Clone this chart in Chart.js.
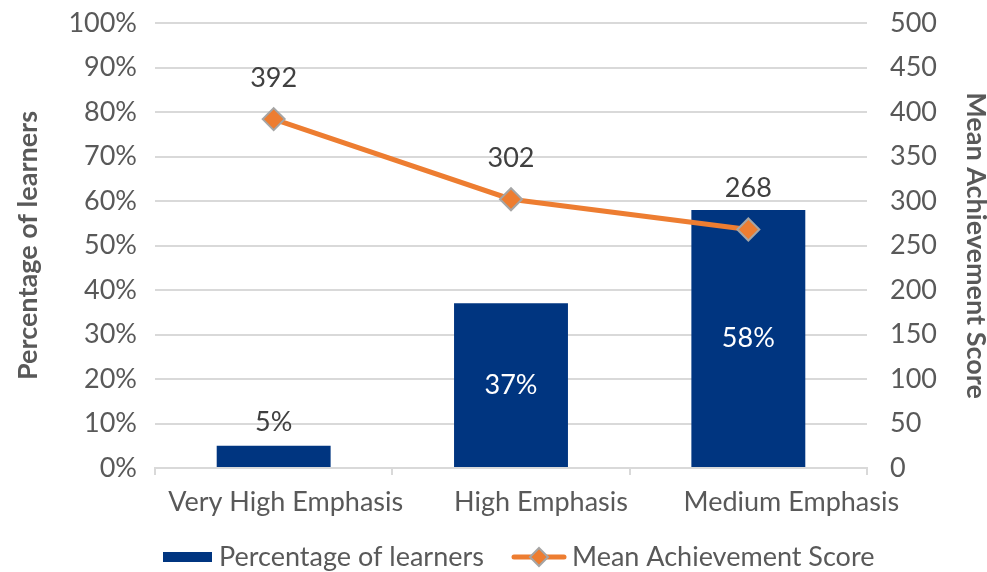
<!DOCTYPE html>
<html>
<head>
<meta charset="utf-8">
<script src="https://cdn.jsdelivr.net/npm/chart.js@4.4.1/dist/chart.umd.min.js"></script>
<style>
  html, body { margin: 0; padding: 0; background: #fff; }
  #wrap { width: 987px; height: 572px; position: relative; }
</style>
</head>
<body>
<div id="wrap"><canvas id="emphChart"></canvas></div>
<script>
// categories and values
const categories = ['Very High Emphasis', 'High Emphasis', 'Medium Emphasis'];
const pctLearners = [5, 37, 58];
const meanScore = [392, 302, 268];
const pctTicks = [0, 10, 20, 30, 40, 50, 60, 70, 80, 90, 100];
const scoreTicks = [0, 50, 100, 150, 200, 250, 300, 350, 400, 450, 500];

const NAVY = '#003580';
const ORANGE = '#ED7D31';
const GRID = '#d9d9d9';
const TXT = '#595959';
const FONT = 'Lato, "Noto Sans", sans-serif';
const FS = 27;

// category labels sit a little right of the bar centres
const labelShift = [12, 30, 43];

// value labels on bars and line points
const valueLabels = {
    id: 'valueLabels',
    afterDatasetsDraw(chart) {
        const ctx = chart.ctx;
        ctx.save();
        ctx.font = FS + 'px ' + FONT;
        ctx.textAlign = 'center';
        ctx.textBaseline = 'middle';
        chart.getDatasetMeta(0).data.forEach((bar, i) => {
            const h = bar.base - bar.y;
            if (h < 40) {
                ctx.fillStyle = '#404040';
                ctx.fillText(pctLearners[i] + '%', bar.x, bar.y - 23);
            } else {
                ctx.fillStyle = '#ffffff';
                ctx.fillText(pctLearners[i] + '%', bar.x, (bar.y + bar.base) / 2);
            }
        });
        ctx.fillStyle = '#404040';
        chart.getDatasetMeta(1).data.forEach((pt, i) => {
            ctx.fillText(String(meanScore[i]), pt.x, pt.y - 41);
        });
        ctx.restore();
    }
};

// category names under the x axis
const catLabels = {
    id: 'catLabels',
    afterDraw(chart) {
        const ctx = chart.ctx;
        const xs = chart.scales.x;
        ctx.save();
        ctx.font = FS + 'px ' + FONT;
        ctx.fillStyle = TXT;
        ctx.textAlign = 'center';
        ctx.textBaseline = 'middle';
        categories.forEach((c, i) => {
            ctx.fillText(c, xs.getPixelForTick(i) + labelShift[i], chart.chartArea.bottom + 34);
        });
        ctx.restore();
    }
};

// legend under the axis
const bottomLegend = {
    id: 'bottomLegend',
    afterDraw(chart) {
        const ctx = chart.ctx;
        const y = 557;
        ctx.save();
        ctx.fillStyle = NAVY;
        ctx.fillRect(163, y - 5, 49, 10);
        ctx.font = FS + 'px ' + FONT;
        ctx.textBaseline = 'middle';
        ctx.textAlign = 'left';
        ctx.fillStyle = TXT;
        ctx.fillText('Percentage of learners', 219, y);

        ctx.strokeStyle = ORANGE;
        ctx.lineWidth = 5;
        ctx.lineCap = 'round';
        ctx.beginPath();
        ctx.moveTo(514, y);
        ctx.lineTo(564, y);
        ctx.stroke();
        const cx = 539, r = 9;
        ctx.beginPath();
        ctx.moveTo(cx, y - r);
        ctx.lineTo(cx + r, y);
        ctx.lineTo(cx, y + r);
        ctx.lineTo(cx - r, y);
        ctx.closePath();
        ctx.fillStyle = ORANGE;
        ctx.fill();
        ctx.strokeStyle = '#a5a5a5';
        ctx.lineWidth = 2;
        ctx.stroke();
        ctx.fillStyle = TXT;
        ctx.fillText('Mean Achievement Score', 572, y);
        ctx.restore();
    }
};

// fixed axis box, no extra padding for the end labels
function fixWidth(w) {
    return function (scale) {
        scale.width = w;
        scale.paddingTop = 0;
        scale.paddingBottom = 0;
    };
}

new Chart(document.getElementById('emphChart'), {
    data: {
        labels: categories,
        datasets: [{
            type: 'bar',
            label: 'Percentage of learners',
            data: pctLearners,
            backgroundColor: NAVY,
            barPercentage: 0.48,
            categoryPercentage: 1,
            yAxisID: 'y',
            order: 2
        }, {
            type: 'line',
            label: 'Mean Achievement Score',
            data: meanScore,
            borderColor: ORANGE,
            borderWidth: 5,
            pointStyle: 'rectRot',
            pointRadius: 11,
            pointBackgroundColor: ORANGE,
            pointBorderColor: '#a5a5a5',
            pointBorderWidth: 2,
            yAxisID: 'y1',
            order: 1
        }]
    },
    options: {
        responsive: true,
        maintainAspectRatio: false,
        animation: false,
        layout: { padding: { top: 23, right: 0, left: 0, bottom: 0 } },
        plugins: {
            legend: { display: false },
            tooltip: { enabled: false }
        },
        scales: {
            x: {
                offset: true,
                grid: { offset: true, drawOnChartArea: false, color: GRID, lineWidth: 2, tickLength: 7 },
                border: { color: GRID, width: 2 },
                ticks: { display: false, maxRotation: 0, minRotation: 0, autoSkip: false },
                afterFit(scale) {
                    scale.height = 104;
                    scale.paddingLeft = 0;
                    scale.paddingRight = 0;
                }
            },
            y: {
                position: 'left',
                min: 0, max: 100,
                afterBuildTicks(scale) { scale.ticks = pctTicks.map(v => ({ value: v })); },
                grid: { color: GRID, lineWidth: 2, drawTicks: false },
                border: { display: false },
                ticks: { color: TXT, font: { family: FONT, size: FS }, padding: 18, callback: v => v + '%' },
                title: { display: true, text: 'Percentage of learners', color: TXT,
                    font: { family: FONT, size: FS, weight: 'bold' }, padding: { top: 12, bottom: 0 } },
                afterFit: fixWidth(155)
            },
            y1: {
                position: 'right',
                min: 0, max: 500,
                afterBuildTicks(scale) { scale.ticks = scoreTicks.map(v => ({ value: v })); },
                grid: { drawOnChartArea: false, drawTicks: false },
                border: { display: false },
                ticks: { color: TXT, font: { family: FONT, size: FS }, padding: 23 },
                title: { display: true, text: 'Mean Achievement Score', color: TXT,
                    font: { family: FONT, size: FS, weight: 'bold' }, padding: { top: -5, bottom: 0 } },
                afterFit: fixWidth(120)
            }
        }
    },
    plugins: [valueLabels, catLabels, bottomLegend]
});
</script>
</body>
</html>
